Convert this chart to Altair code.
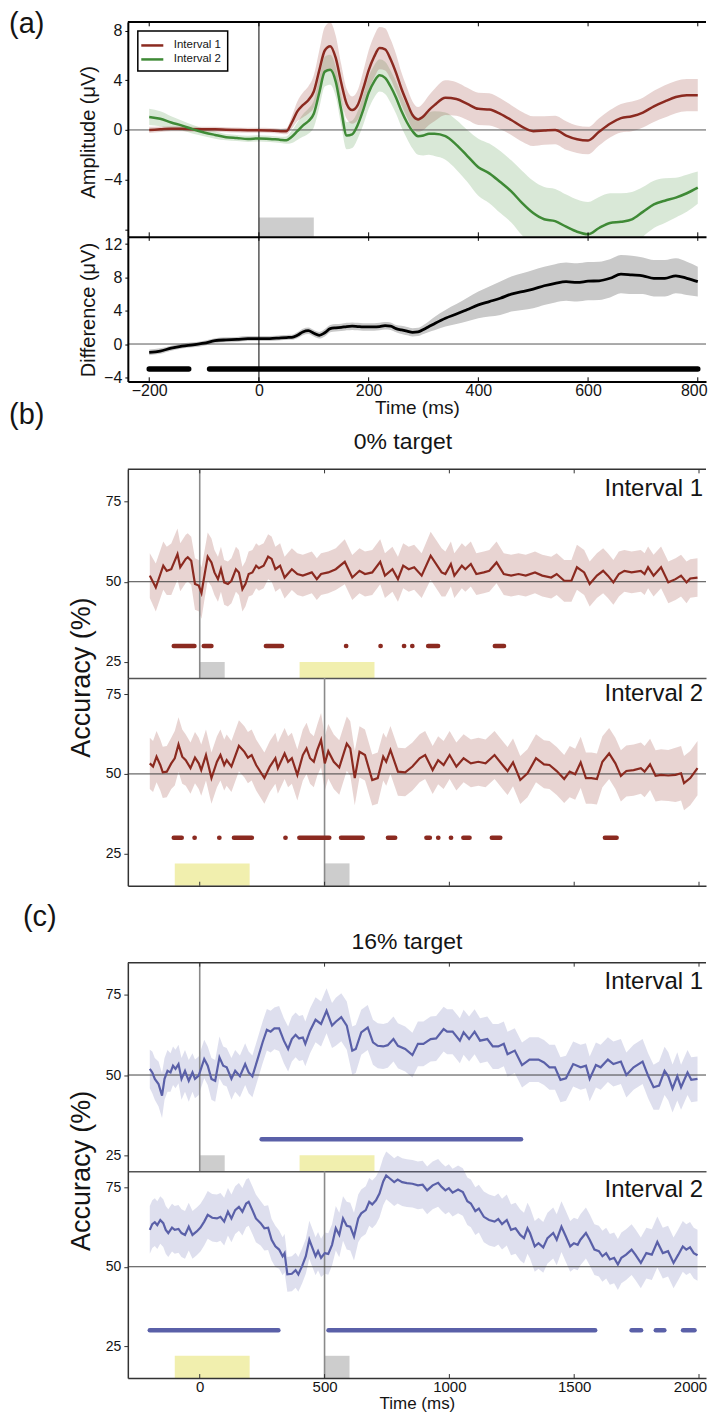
import altair as alt
import pandas as pd

FONT = "Liberation Sans, Arial, Helvetica, sans-serif"
INK = "#141414"
RED = "#8b2a20"
GREEN = "#3f8a36"
BLUE = "#5a60a8"
GRAYBOX = "#cdcdcd"
YELLOWBOX = "#f1efae"
W = 579

# ---------------- panel (a) data ----------------
ta = [-200, -180, -160, -140, -120, -100, -80, -60, -40, -20, 0, 20, 40,
      50, 60, 70, 80, 90, 100, 110, 120, 130, 140, 150, 160, 170, 180, 190, 200,
      210, 220, 230, 240, 250, 260, 270, 280, 290, 300, 310, 320,
      340, 360, 380, 400, 420, 440, 460, 480, 500, 520, 540, 560, 580, 600,
      620, 640, 660, 680, 700, 720, 740, 760, 780, 800]
amp1 = [0.0, 0.05, 0.1, 0.1, 0.05, 0.05, 0.05, 0.02, 0.0, -0.02, -0.02, -0.05, -0.1,
        -0.1, 0.6, 1.5, 2.0, 2.4, 3.1, 4.8, 6.4, 6.75, 5.8, 3.8, 2.1, 1.6, 2.0, 3.3, 4.8,
        5.9, 6.6, 6.5, 5.7, 4.6, 3.3, 2.2, 1.2, 0.85, 1.1, 1.6, 2.0,
        2.6, 2.5, 2.1, 1.7, 1.65, 1.3, 0.8, 0.25, -0.1, -0.05, 0.0, -0.45, -0.75, -0.85,
        -0.15, 0.5, 0.95, 1.1, 1.4, 1.9, 2.3, 2.65, 2.8, 2.8]
amp1_se = [0.25, 0.22, 0.2, 0.2, 0.2, 0.2, 0.2, 0.2, 0.2, 0.2, 0.2, 0.2, 0.2,
           0.25, 0.5, 0.8, 1.0, 1.1, 1.3, 1.6, 1.9, 1.9, 1.8, 1.5, 1.2, 1.1, 1.2, 1.4, 1.6,
           1.7, 1.7, 1.7, 1.6, 1.5, 1.3, 1.2, 1.1, 1.0, 1.1, 1.2, 1.3,
           1.4, 1.35, 1.3, 1.3, 1.3, 1.25, 1.2, 1.2, 1.2, 1.15, 1.15, 1.15, 1.1, 1.1,
           1.1, 1.1, 1.15, 1.2, 1.2, 1.25, 1.3, 1.3, 1.3, 1.3]
amp2 = [1.05, 0.9, 0.6, 0.35, 0.05, -0.2, -0.4, -0.58, -0.65, -0.72, -0.68, -0.72, -0.8,
        -0.82, -0.55, -0.1, 0.35, 0.7, 1.3, 3.0, 4.7, 4.85, 3.9, 1.6, -0.45, -0.35, 0.4, 1.6, 3.0,
        3.9, 4.4, 4.2, 3.5, 2.6, 1.5, 0.6, -0.1, -0.5, -0.45, -0.3, -0.3,
        -0.5, -1.2, -2.1, -3.0, -3.5, -4.2, -4.95, -5.9, -6.7, -7.2, -7.35, -7.8, -8.2, -8.4,
        -7.9, -7.5, -7.4, -7.2, -6.6, -6.0, -5.7, -5.45, -5.1, -4.65]
amp2_se = [0.65, 0.6, 0.5, 0.4, 0.35, 0.3, 0.3, 0.25, 0.25, 0.25, 0.25, 0.25, 0.25,
           0.3, 0.5, 0.7, 0.9, 1.0, 1.1, 1.2, 1.2, 1.2, 1.2, 1.2, 1.1, 1.1, 1.1, 1.2, 1.3,
           1.3, 1.3, 1.3, 1.3, 1.3, 1.3, 1.3, 1.4, 1.5, 1.6, 1.7, 1.8,
           1.9, 2.0, 2.1, 2.3, 2.4, 2.5, 2.5, 2.6, 2.6, 2.6, 2.6, 2.6, 2.6, 2.6,
           2.5, 2.4, 2.3, 2.2, 2.0, 1.9, 1.8, 1.6, 1.5, 1.3]
diff = [-1.0, -0.85, -0.5, -0.25, -0.1, 0.1, 0.4, 0.5, 0.55, 0.65, 0.65, 0.65, 0.75,
        0.78, 0.8, 1.05, 1.45, 1.6, 1.3, 1.05, 1.35, 1.85, 1.95, 2.0, 2.1, 2.15, 2.1, 2.05, 2.05,
        2.05, 2.1, 2.2, 2.15, 1.85, 1.7, 1.55, 1.4, 1.45, 1.75, 2.1, 2.45,
        3.1, 3.6, 4.15, 4.7, 5.1, 5.5, 6.0, 6.3, 6.6, 7.0, 7.3, 7.5, 7.4, 7.55,
        7.6, 7.9, 8.4, 8.3, 8.2, 7.9, 7.9, 8.2, 7.9, 7.5]
diff_se = [0.35, 0.33, 0.3, 0.3, 0.3, 0.3, 0.3, 0.3, 0.3, 0.3, 0.3, 0.3, 0.3,
           0.3, 0.3, 0.35, 0.4, 0.4, 0.4, 0.4, 0.45, 0.45, 0.45, 0.45, 0.45, 0.45, 0.45, 0.45, 0.45,
           0.45, 0.45, 0.45, 0.45, 0.45, 0.5, 0.5, 0.5, 0.5, 0.55, 0.65, 0.8,
           1.0, 1.2, 1.4, 1.6, 1.8, 2.0, 2.1, 2.2, 2.3, 2.3, 2.3, 2.3, 2.3, 2.3,
           2.3, 2.3, 2.3, 2.3, 2.2, 2.2, 2.2, 2.1, 2.0, 1.8]
diff_sig_start = [-200, -90]
diff_sig_end = [-128, 800]
diff_sig_level = -3
a_box_x = [0, 100]
a_box_y = [-8.6, -7.05]
a_xticks = [-200, 0, 200, 400, 600, 800]
amp_yticks = [-8, -4, 0, 4, 8]
diff_yticks = [-4, 0, 4, 8, 12]
series_names = ["Interval 1", "Interval 2"]

# ---------------- panel (b) 0% target ----------------
b1_t = [-200, -176, -146, -132, -114, -89, -78, -56, -48, -34, -19, -4, 7, 21, 32, 47, 59, 73, 85, 98,
        113, 127, 145, 157, 171, 183, 196, 211, 226, 237, 256, 274, 288, 303, 322, 340, 369, 391, 413, 449,
        469, 486, 515, 545, 581, 611, 640, 662, 691, 723, 742, 772, 794, 815, 837, 859, 889, 925, 969, 984,
        1006, 1020, 1050, 1064, 1086, 1108, 1138, 1160, 1189, 1218, 1247, 1277, 1306, 1343, 1372, 1408, 1430, 1460, 1489, 1511,
        1540, 1562, 1591, 1616, 1635, 1657, 1679, 1701, 1730, 1767, 1782, 1796, 1818, 1848, 1877, 1906, 1928, 1950, 1965, 1994]
b1_v = [51.9, 48.2, 55.0, 53.4, 53.9, 58.6, 54.5, 57.1, 57.6, 56.5, 49.3, 48.8, 46.5, 52.9, 57.8, 56.0, 52.9, 50.8, 53.9, 49.8,
        49.3, 50.3, 53.9, 52.9, 47.7, 49.3, 52.4, 52.9, 55.0, 54.2, 55.0, 57.8, 57.1, 53.9, 55.0, 51.3, 53.9, 52.4, 51.9, 52.9,
        50.8, 52.4, 52.9, 53.9, 56.2, 51.3, 53.4, 52.4, 52.9, 56.2, 51.9, 53.9, 50.8, 55.0, 53.9, 54.5, 51.9, 58.1, 52.9, 52.4,
        55.5, 51.9, 55.0, 53.9, 55.5, 52.4, 52.9, 53.4, 56.0, 52.4, 51.9, 52.4, 51.9, 52.9, 51.9, 51.3, 52.4, 50.3, 50.3, 54.5,
        52.9, 49.3, 51.9, 53.4, 51.9, 49.8, 52.4, 53.4, 52.9, 53.4, 52.4, 54.5, 51.9, 54.5, 49.8, 50.8, 51.9, 49.8, 51.0, 51.3]
b1_se = [7.0, 7.5, 7.5, 7.5, 8.0, 8.0, 7.5, 7.5, 7.5, 7.5, 8.0, 8.0, 8.0, 7.5, 7.5, 7.5, 7.0, 7.0, 7.0, 7.0,
         7.0, 7.0, 7.0, 7.0, 7.0, 7.0, 7.0, 7.0, 7.0, 7.0, 7.0, 7.0, 7.0, 7.0, 7.0, 6.5, 6.5, 6.5, 6.5, 6.5,
         6.5, 6.5, 6.5, 6.5, 7.0, 7.0, 7.0, 7.0, 7.0, 7.0, 7.0, 7.0, 7.0, 7.0, 7.0, 7.0, 7.0, 7.5, 7.5, 7.0,
         7.0, 7.0, 7.0, 7.0, 7.0, 6.5, 6.5, 6.5, 6.5, 6.5, 6.5, 6.5, 6.5, 6.5, 6.5, 6.5, 6.5, 6.5, 6.5, 7.0,
         7.0, 7.0, 7.0, 7.0, 7.0, 7.0, 7.0, 6.5, 6.5, 6.5, 6.5, 6.5, 6.5, 6.5, 6.5, 6.5, 6.5, 6.5, 6.0, 6.0]
b1_sig_start = [-104, 16, 265, 586, 724, 818, 851, 915, 1182]
b1_sig_end = [-21, 47, 330, 587, 725, 819, 852, 955, 1219]

b2_t = [-200, -187, -173, -158, -148, -132, -114, -100, -85, -70, -56, -37, -19, -4, 6, 25, 47, 69, 83, 98,
        108, 127, 157, 179, 193, 208, 226, 259, 281, 303, 313, 340, 354, 369, 391, 413, 428, 442, 457, 471,
        486, 501, 515, 537, 559, 589, 603, 621, 640, 662, 691, 713, 735, 747, 764, 794, 823, 852, 881, 903,
        933, 955, 977, 1001, 1028, 1057, 1086, 1116, 1145, 1181, 1218, 1233, 1255, 1284, 1313, 1347, 1379, 1401, 1430, 1460,
        1482, 1504, 1526, 1547, 1569, 1591, 1613, 1640, 1665, 1687, 1709, 1738, 1767, 1782, 1804, 1826, 1848, 1877, 1906, 1928,
        1940, 1965, 1994]
b2_v = [53.3, 52.3, 55.4, 52.8, 50.5, 50.7, 53.3, 54.9, 59.2, 55.4, 54.3, 51.8, 55.1, 53.3, 51.2, 55.9, 48.7, 53.8, 55.9, 52.8,
        54.3, 52.3, 58.8, 56.9, 55.1, 55.9, 52.8, 48.7, 52.3, 54.9, 51.8, 56.4, 53.8, 54.9, 49.7, 55.9, 58.0, 54.9, 53.8, 57.5,
        60.6, 53.3, 57.1, 53.8, 52.0, 59.5, 58.0, 48.7, 56.9, 55.9, 48.1, 48.7, 55.4, 53.8, 57.5, 50.7, 50.5, 52.3, 54.9, 55.9,
        51.2, 54.3, 52.8, 55.9, 52.3, 54.9, 53.3, 53.8, 53.3, 55.9, 52.3, 50.9, 53.6, 48.1, 50.2, 54.9, 53.0, 52.8, 50.9, 48.4,
        50.7, 49.9, 53.6, 48.7, 48.7, 48.4, 53.8, 56.4, 53.3, 49.4, 50.9, 51.2, 51.8, 50.7, 53.0, 49.4, 49.7, 49.5, 49.7, 50.2,
        47.1, 48.7, 51.8]
b2_se = [8.0, 8.0, 8.0, 8.0, 8.0, 8.0, 8.0, 8.5, 8.5, 8.5, 8.0, 8.0, 8.0, 8.0, 8.0, 8.0, 8.0, 8.0, 8.0, 8.0,
         8.0, 8.0, 8.0, 8.0, 8.0, 8.0, 8.0, 8.0, 8.0, 8.0, 8.0, 8.0, 8.0, 8.0, 8.0, 8.0, 8.0, 8.0, 8.0, 8.0,
         8.5, 8.5, 8.5, 8.5, 8.5, 8.5, 8.5, 8.5, 8.0, 8.0, 8.0, 8.0, 7.5, 7.5, 7.5, 7.5, 7.5, 7.5, 7.5, 7.5,
         7.5, 7.5, 7.5, 7.5, 7.5, 7.5, 7.5, 7.5, 7.5, 7.5, 7.5, 7.5, 7.5, 7.5, 7.5, 7.5, 7.5, 7.5, 7.5, 7.5,
         8.0, 8.0, 8.0, 8.0, 8.0, 8.0, 8.0, 8.0, 8.0, 8.0, 8.0, 8.0, 8.0, 8.0, 8.0, 8.0, 8.0, 8.0, 8.5, 8.5,
         8.5, 8.5, 8.5]
b2_sig_start = [-104, -21, 78, 137, 343, 399, 566, 754, 908, 955, 1006, 1056, 1170, 1623]
b2_sig_end = [-72, -20, 79, 209, 344, 519, 653, 783, 922, 956, 1007, 1081, 1204, 1670]

# ---------------- panel (c) 16% target ----------------
c1_t = [-200, -190, -180, -165, -151, -141, -129, -117, -107, -97, -85, -73, -59, -44, -29, -19, -4, 18, 32, 47,
        62, 79, 94, 108, 127, 142, 161, 182, 196, 211, 234, 252, 269, 284, 299, 318, 337, 354, 369, 384,
        398, 413, 423, 442, 464, 486, 508, 530, 545, 567, 589, 611, 625, 647, 673, 694, 713, 735, 753, 776,
        794, 823, 852, 874, 896, 925, 947, 977, 991, 1013, 1042, 1057, 1079, 1101, 1123, 1152, 1174, 1196, 1218, 1233,
        1262, 1291, 1321, 1357, 1379, 1401, 1423, 1445, 1467, 1496, 1526, 1547, 1562, 1587, 1606, 1635, 1657, 1687, 1709, 1738,
        1774, 1796, 1818, 1840, 1862, 1877, 1894, 1913, 1928, 1954, 1969, 1994]
c1_v = [51.9, 50.8, 48.8, 47.2, 43.6, 48.8, 51.3, 50.8, 52.9, 51.9, 53.4, 48.8, 51.3, 48.2, 50.8, 48.8, 49.8, 55.0, 52.9, 48.8,
        48.2, 55.5, 52.9, 52.4, 48.8, 51.3, 49.6, 53.4, 50.8, 49.6, 55.5, 60.2, 64.1, 63.5, 64.5, 64.5, 60.7, 58.1, 61.2, 62.5,
        61.4, 61.7, 59.7, 63.8, 67.2, 65.9, 70.0, 65.4, 66.6, 68.0, 65.4, 57.6, 58.1, 63.3, 64.8, 60.2, 59.1, 58.9, 59.3, 61.2,
        59.1, 58.1, 56.2, 59.7, 59.7, 61.2, 61.4, 64.3, 63.5, 63.5, 60.7, 63.3, 61.2, 63.5, 60.7, 61.2, 58.9, 58.9, 59.7, 56.5,
        57.6, 53.1, 54.8, 54.8, 53.9, 52.4, 52.4, 48.5, 49.0, 53.4, 52.4, 52.9, 48.8, 53.1, 52.4, 54.8, 53.4, 54.2, 50.0, 52.4,
        54.2, 49.8, 46.2, 46.7, 51.3, 49.6, 45.8, 49.6, 46.2, 50.8, 48.5, 48.8]
c1_se = [6.0, 6.5, 6.5, 7.0, 7.0, 6.5, 6.5, 6.0, 6.0, 6.0, 6.0, 6.5, 6.5, 6.5, 6.0, 6.0, 6.0, 6.0, 6.0, 6.5,
         6.5, 6.5, 6.0, 6.0, 6.5, 6.5, 6.5, 6.5, 6.5, 6.5, 6.5, 6.5, 6.5, 6.5, 6.5, 7.0, 7.0, 7.0, 7.0, 7.0,
         7.0, 7.0, 7.0, 7.0, 7.0, 7.0, 7.0, 7.0, 7.5, 7.5, 7.5, 7.5, 7.5, 7.0, 7.0, 7.0, 7.0, 7.0, 7.0, 7.0,
         7.0, 7.0, 7.0, 7.0, 7.0, 7.0, 7.0, 7.0, 7.0, 7.0, 7.0, 7.0, 7.0, 7.0, 7.0, 7.0, 7.0, 7.0, 7.0, 7.0,
         7.0, 7.0, 7.0, 7.0, 7.0, 7.0, 7.0, 7.0, 7.0, 7.0, 7.0, 7.0, 7.0, 7.0, 7.0, 7.0, 7.0, 7.0, 7.0, 7.0,
         7.0, 7.0, 7.0, 7.5, 7.5, 7.5, 7.5, 7.5, 7.0, 7.0, 7.0, 7.0]
c1_sig_start = [248]
c1_sig_end = [1287]

c2_t = [-200, -190, -180, -170, -158, -146, -136, -126, -111, -100, -85, -73, -59, -44, -29, -12, 3, 18, 32, 50,
        69, 83, 98, 113, 127, 142, 157, 171, 186, 196, 211, 225, 244, 259, 274, 288, 303, 318, 332, 340,
        351, 369, 384, 395, 410, 425, 439, 449, 464, 474, 486, 501, 515, 530, 545, 559, 574, 589, 603, 618,
        635, 647, 665, 679, 691, 706, 720, 735, 747, 764, 779, 793, 811, 830, 852, 874, 893, 911, 933, 955,
        969, 984, 998, 1013, 1035, 1054, 1072, 1086, 1104, 1118, 1138, 1159, 1181, 1196, 1211, 1230, 1247, 1265, 1284, 1299,
        1313, 1323, 1342, 1357, 1376, 1393, 1416, 1430, 1449, 1464, 1484, 1499, 1514, 1525, 1547, 1562, 1581, 1599, 1613, 1628,
        1643, 1660, 1675, 1689, 1708, 1730, 1745, 1767, 1789, 1811, 1833, 1855, 1876, 1898, 1917, 1935, 1949, 1964, 1979, 1994]
c2_v = [61.6, 63.4, 64.0, 63.1, 64.7, 63.7, 61.6, 60.6, 62.3, 61.6, 61.9, 60.6, 60.0, 62.6, 60.0, 61.1, 62.3, 64.2, 66.3, 65.4,
        65.2, 65.7, 64.2, 67.3, 65.2, 67.8, 68.8, 67.3, 69.9, 70.4, 67.8, 65.2, 63.7, 62.1, 62.3, 58.5, 56.4, 55.4, 53.3, 54.3,
        47.6, 47.8, 48.9, 47.6, 50.2, 53.3, 58.5, 56.4, 53.3, 54.9, 52.8, 54.3, 54.0, 56.9, 62.1, 60.0, 65.2, 62.9, 62.6, 59.5,
        65.2, 66.8, 67.8, 70.4, 69.6, 70.9, 73.0, 76.8, 78.7, 77.6, 76.6, 77.4, 76.6, 76.3, 76.1, 75.6, 75.8, 74.0, 75.6, 76.4,
        75.1, 74.0, 74.7, 73.3, 74.3, 73.5, 70.6, 69.9, 67.5, 68.3, 65.7, 64.7, 64.2, 65.0, 63.4, 64.7, 61.6, 62.1, 60.0, 59.0,
        62.1, 60.6, 56.4, 57.4, 56.1, 59.0, 60.6, 58.5, 62.6, 60.0, 56.4, 57.4, 56.9, 58.5, 60.6, 58.5, 55.4, 54.9, 53.3, 54.3,
        52.3, 52.8, 50.7, 52.8, 53.8, 55.4, 53.8, 51.2, 54.3, 53.8, 57.8, 54.3, 54.9, 51.2, 53.8, 56.4, 55.4, 56.1, 54.3, 53.6]
c2_se = [7.5, 7.5, 7.5, 7.5, 7.5, 7.5, 7.5, 7.5, 7.5, 7.5, 7.5, 7.5, 7.5, 7.5, 7.5, 7.5, 7.5, 7.5, 7.5, 7.5,
         7.5, 7.5, 7.5, 7.5, 7.5, 7.5, 7.5, 7.5, 7.5, 7.5, 7.5, 7.5, 7.0, 7.0, 7.0, 6.5, 6.5, 6.0, 6.0, 6.0,
         5.5, 5.5, 5.5, 5.5, 5.5, 5.5, 6.0, 6.0, 6.0, 6.0, 6.0, 6.5, 6.5, 6.5, 7.0, 7.0, 7.0, 7.5, 7.5, 7.5,
         7.5, 7.5, 7.5, 7.5, 7.5, 7.5, 7.5, 7.5, 7.5, 7.5, 7.5, 7.5, 7.5, 7.5, 7.5, 7.5, 7.5, 7.5, 7.5, 7.5,
         7.5, 7.5, 7.5, 7.5, 7.5, 7.5, 7.5, 7.5, 7.5, 7.5, 8.0, 8.0, 8.0, 8.0, 8.0, 8.0, 8.0, 8.0, 8.0, 8.0,
         8.0, 8.0, 8.0, 8.0, 8.0, 8.0, 8.0, 8.0, 8.0, 8.0, 8.0, 8.0, 8.0, 8.0, 8.0, 8.0, 8.0, 8.0, 8.0, 8.0,
         8.0, 8.0, 8.0, 8.0, 8.0, 8.0, 8.0, 8.0, 8.0, 8.0, 8.0, 8.0, 8.0, 8.0, 8.0, 8.0, 8.0, 8.0, 8.0, 8.0]
c2_sig_start = [-200, 516, 1730, 1827, 1936]
c2_sig_end = [315, 1584, 1768, 1861, 1982]

acc_sig_level = 30
acc_yticks = [25, 50, 75]
bc_xticks = [0, 500, 1000, 1500, 2000]
chance = [50]
int1_box_x0 = [0, 400]
int1_box_x1 = [100, 700]
int1_box_y0 = [20, 20]
int1_box_y1 = [25, 25]
int2_box_x0 = [-100, 500]
int2_box_x1 = [200, 600]
int2_box_y0 = [15, 15]
int2_box_y1 = [22, 22]
box_colors = [GRAYBOX, YELLOWBOX]
box_colors2 = [YELLOWBOX, GRAYBOX]

# ---------------- scales ----------------
XA_DOM = [-239, 815]
XB_DOM = [-288, 2028]
YA1_DOM = [-8.6, 8.7]
YA2_DOM = [-4.5, 12.9]
YI1_DOM = [20, 85]
YI2_DOM = [15, 80]


def sc(dom):
    return alt.Scale(domain=dom, nice=False, zero=False)


def encoders(xdom, ydom, xax, yax):
    xs, ys = sc(xdom), sc(ydom)

    def X(field=None, datum=None):
        if datum is not None:
            return alt.X(datum=datum, type="quantitative", scale=xs, axis=xax)
        return alt.X(field, type="quantitative", scale=xs, axis=xax)

    def Y(field=None, datum=None):
        if datum is not None:
            return alt.Y(datum=datum, type="quantitative", scale=ys, axis=yax)
        return alt.Y(field, type="quantitative", scale=ys, axis=yax)
    return X, Y


def yaxis(values, title, tx, ty, label_size, title_size, dcolor, dwidth, tick_size, hide_val=None):
    kw = dict(values=values, labelFontSize=label_size, labelColor=INK, labelPadding=3,
              ticks=True, tickSize=tick_size, tickColor=dcolor, domainColor=dcolor,
              domainWidth=dwidth, grid=False, zindex=2, labelFont=FONT)
    if hide_val is not None:
        kw["labelExpr"] = "datum.value == %d ? '' : datum.label" % hide_val
    if title:
        kw.update(title=title, titleFontSize=title_size, titleFontWeight="normal", titleX=tx, titleY=ty,
                  titleAngle=-90, titleBaseline="middle", titleAlign="center", titleColor=INK, titleFont=FONT)
    else:
        kw.update(title=None)
    return alt.Axis(**kw)


def xaxis(values, show_labels, title, dcolor, dwidth, label_size=16, title_size=19, title_pad=0,
          last_val=None, last_shift=0):
    kw = dict(values=values, labels=show_labels, ticks=False, domainColor=dcolor, domainWidth=dwidth,
              grid=False, zindex=2, labelFontSize=label_size, labelColor=INK, labelPadding=1,
              labelFont=FONT, format="d")
    if last_val is not None:
        kw["labelOffset"] = {"condition": {"test": "datum.value >= %d" % last_val, "value": last_shift},
                             "value": 0}
    if title:
        kw.update(title=title, titleFontSize=title_size, titleFontWeight="normal", titlePadding=title_pad,
                  titleColor=INK, titleFont=FONT)
    else:
        kw.update(title=None)
    return alt.Axis(**kw)


def text_layer(lbl, xpix, ypix, size, align="left"):
    return alt.Chart(pd.DataFrame({"label": [lbl]})).mark_text(
        align=align, baseline="alphabetic", fontSize=size, color=INK, font=FONT
    ).encode(x=alt.value(xpix), y=alt.value(ypix), text="label:N")


def ticks_layer(X, Y, tick_vals, y_from, y_to, color, width):
    return alt.Chart(pd.DataFrame({"t": tick_vals})).mark_rule(color=color, strokeWidth=width).encode(
        x=X("t"), y=Y(datum=y_from), y2=alt.Y2(datum=y_to))


# ---------------- row 1: amplitude ----------------
xax1 = xaxis(a_xticks, False, None, "black", 2)
yax1 = yaxis(amp_yticks, "Amplitude (μV)", -39, 110, 16, 20, "black", 2, 3, hide_val=-8)
X, Y = encoders(XA_DOM, YA1_DOM, xax1, yax1)
d1 = pd.DataFrame({"t": ta, "v": amp1, "se": amp1_se})
d2 = pd.DataFrame({"t": ta, "v": amp2, "se": amp2_se})
dl = pd.concat([pd.DataFrame({"t": ta, "v": amp1, "series": series_names[0]}),
                pd.DataFrame({"t": ta, "v": amp2, "series": series_names[1]})])
r1_layers = [
    alt.Chart(d2).transform_calculate(lo="datum.v - datum.se", hi="datum.v + datum.se")
    .mark_area(color=GREEN, opacity=0.2, clip=True, interpolate="monotone")
    .encode(x=X("t"), y=Y("lo"), y2=alt.Y2("hi:Q")),
    alt.Chart(d1).transform_calculate(lo="datum.v - datum.se", hi="datum.v + datum.se")
    .mark_area(color=RED, opacity=0.2, clip=True, interpolate="monotone")
    .encode(x=X("t"), y=Y("lo"), y2=alt.Y2("hi:Q")),
    alt.Chart(pd.DataFrame({"x0": [a_box_x[0]], "x1": [a_box_x[1]], "y0": [a_box_y[0]], "y1": [a_box_y[1]]}))
    .mark_rect(color=GRAYBOX).encode(x=X("x0"), x2=alt.X2("x1:Q"), y=Y("y0"), y2=alt.Y2("y1:Q")),
    alt.Chart(pd.DataFrame({"y": [0]})).mark_rule(color="#555555", strokeWidth=1).encode(y=Y("y")),
    alt.Chart(pd.DataFrame({"x": [0]})).mark_rule(color="black", strokeWidth=1).encode(x=X("x")),
    alt.Chart(dl).mark_line(strokeWidth=2.5, interpolate="monotone", clip=True).encode(
        x=X("t"), y=Y("v"),
        color=alt.Color("series:N", scale=alt.Scale(domain=series_names, range=[RED, GREEN]),
                        legend=alt.Legend(orient="none", legendX=10, legendY=9, title=None,
                                          fillColor="white", strokeColor="black", padding=6,
                                          labelFontSize=11.5, labelFont=FONT, labelColor=INK,
                                          symbolType="M-1.6,0L1.6,0", symbolStrokeWidth=2.5, symbolSize=190,
                                          rowPadding=0, labelOffset=13))),
    alt.Chart(pd.DataFrame({"y": [YA1_DOM[1]]})).mark_rule(color="black", strokeWidth=2).encode(y=Y("y")),
    ticks_layer(X, Y, a_xticks, YA1_DOM[1], YA1_DOM[1] - 0.35, "black", 1),
    ticks_layer(X, Y, a_xticks, YA1_DOM[0], YA1_DOM[0] + 0.35, "black", 1),
    text_layer("(a)", -119, 11, 29),
]
r1 = alt.layer(*r1_layers).properties(width=W, height=215)

# ---------------- row 2: difference ----------------
xax2 = xaxis(a_xticks, True, "Time (ms)", "black", 2, last_val=800, last_shift=-4)
yax2 = yaxis(diff_yticks, "Difference (μV)", -39, 73, 16, 20, "black", 2, 3)
X, Y = encoders(XA_DOM, YA2_DOM, xax2, yax2)
dd = pd.DataFrame({"t": ta, "v": diff, "se": diff_se})
r2_layers = [
    alt.Chart(dd).transform_calculate(lo="datum.v - datum.se", hi="datum.v + datum.se")
    .mark_area(color="#c9c9c9", opacity=1, clip=True, interpolate="monotone")
    .encode(x=X("t"), y=Y("lo"), y2=alt.Y2("hi:Q")),
    alt.Chart(pd.DataFrame({"y": [0]})).mark_rule(color="#555555", strokeWidth=1).encode(y=Y("y")),
    alt.Chart(pd.DataFrame({"x": [0]})).mark_rule(color="black", strokeWidth=1).encode(x=X("x")),
    alt.Chart(dd).mark_line(color="black", strokeWidth=2.8, interpolate="monotone").encode(x=X("t"), y=Y("v")),
    alt.Chart(pd.DataFrame({"s": diff_sig_start, "e": diff_sig_end})).mark_rule(
        color="black", strokeWidth=5.5, strokeCap="round").encode(x=X("s"), x2=alt.X2("e:Q"), y=Y(datum=diff_sig_level)),
    ticks_layer(X, Y, a_xticks, YA2_DOM[1], YA2_DOM[1] - 0.5, "black", 1),
    ticks_layer(X, Y, a_xticks, YA2_DOM[0], YA2_DOM[0] + 0.5, "black", 1),
]
r2 = alt.layer(*r2_layers).properties(width=W, height=145)


# ---------------- accuracy rows ----------------
def acc_row(t, v, se, s0, s1, color, ydom, bx0, bx1, by0, by1, bcol, vline, label, label_y,
            yax, xax, h, top_border=False, tick_top=False, tick_bot=False, extra_text=(),
            band_clip=True):
    X, Y = encoders(XB_DOM, ydom, xax, yax)
    d = pd.DataFrame({"t": t, "v": v, "se": se})
    layers = [
        alt.Chart(d).transform_calculate(lo="datum.v - datum.se", hi="datum.v + datum.se")
        .mark_area(color=color, opacity=0.2, clip=band_clip)
        .encode(x=X("t"), y=Y("lo"), y2=alt.Y2("hi:Q")),
        alt.Chart(pd.DataFrame({"x0": bx0, "x1": bx1, "y0": by0, "y1": by1, "c": bcol}))
        .mark_rect().encode(x=X("x0"), x2=alt.X2("x1:Q"), y=Y("y0"), y2=alt.Y2("y1:Q"),
                            color=alt.Color("c:N", scale=None)),
        alt.Chart(pd.DataFrame({"x": [vline]})).mark_rule(color="#8a8a8a", strokeWidth=1.6).encode(x=X("x")),
        alt.Chart(pd.DataFrame({"y": chance})).mark_rule(color="#444444", strokeWidth=1).encode(y=Y("y")),
        alt.Chart(d).mark_line(color=color, strokeWidth=2.2).encode(x=X("t"), y=Y("v")),
        alt.Chart(pd.DataFrame({"s": s0, "e": s1})).mark_rule(
            color=color, strokeWidth=4.5, strokeCap="round").encode(
            x=X("s"), x2=alt.X2("e:Q"), y=Y(datum=acc_sig_level)),
        alt.Chart(pd.DataFrame({"label": [label]})).mark_text(
            align="right", baseline="middle", fontSize=24, dx=-3, color=INK, font=FONT).encode(
            x=X(datum=XB_DOM[1]), y=Y(datum=label_y), text="label:N"),
    ]
    if top_border:
        layers.append(alt.Chart(pd.DataFrame({"y": [ydom[1]]})).mark_rule(color="#333333", strokeWidth=1.5)
                      .encode(y=Y("y")))
    if tick_top:
        layers.append(ticks_layer(X, Y, bc_xticks, ydom[1], ydom[1] - 1.25, "#333333", 1))
    if tick_bot:
        layers.append(ticks_layer(X, Y, bc_xticks, ydom[0], ydom[0] + 1.25, "#333333", 1))
    for spec in extra_text:
        layers.append(text_layer(*spec))
    return alt.layer(*layers).properties(width=W, height=h)


xax_mid = xaxis(bc_xticks, False, None, "#555555", 1.5)
xax_bot_nolab = xaxis(bc_xticks, False, None, "#333333", 1.5)
xax_bot_lab = xaxis(bc_xticks, True, "Time (ms)", "#333333", 1.5, label_size=15, title_size=17,
                    title_pad=1, last_val=2000, last_shift=-9)
yax_acc_t = yaxis(acc_yticks, "Accuracy (%)", -46, 208, 14, 27, "#333333", 1.5, 4)
yax_acc = yaxis(acc_yticks, None, 0, 0, 14, 27, "#333333", 1.5, 4)

r3 = acc_row(b1_t, b1_v, b1_se, b1_sig_start, b1_sig_end, RED, YI1_DOM,
             int1_box_x0, int1_box_x1, int1_box_y0, int1_box_y1, box_colors, 0, "Interval 1", 79,
             yax_acc_t, xax_mid, 209, top_border=True, tick_top=True,
             extra_text=[("(b)", -119, -45, 29), ("0% target", W / 2 - 14, -20, 23, "center")])
r4 = acc_row(b2_t, b2_v, b2_se, b2_sig_start, b2_sig_end, RED, YI2_DOM,
             int2_box_x0, int2_box_x1, int2_box_y0, int2_box_y1, box_colors2, 500, "Interval 2", 75,
             yax_acc, xax_bot_nolab, 208, tick_bot=True)
r5 = acc_row(c1_t, c1_v, c1_se, c1_sig_start, c1_sig_end, BLUE, YI1_DOM,
             int1_box_x0, int1_box_x1, int1_box_y0, int1_box_y1, box_colors, 0, "Interval 1", 79,
             yax_acc_t, xax_mid, 209, top_border=True, tick_top=True,
             extra_text=[("(c)", -105, -37, 29), ("16% target", W / 2 - 10, -14, 23, "center")])
r6 = acc_row(c2_t, c2_v, c2_se, c2_sig_start, c2_sig_end, BLUE, YI2_DOM,
             int2_box_x0, int2_box_x1, int2_box_y0, int2_box_y1, box_colors2, 500, "Interval 2", 74,
             yax_acc, xax_bot_lab, 207, tick_bot=True, band_clip=False)


def spacer(h):
    return alt.Chart(pd.DataFrame({"t": [0]})).mark_point(opacity=0).encode(
        x=alt.X("t:Q", axis=None), y=alt.Y("t:Q", axis=None)).properties(width=W, height=h)


chart = alt.vconcat(r1, r2, spacer(88), r3, r4, spacer(77), r5, r6, spacing=0, bounds="flush").properties(
    padding={"left": 0, "top": 0, "right": 0, "bottom": 0}
).configure(font=FONT).configure_view(stroke="transparent").configure_legend(strokeWidth=1.5)

chart.save("out.html", embed_options={"renderer": "svg", "actions": False})
